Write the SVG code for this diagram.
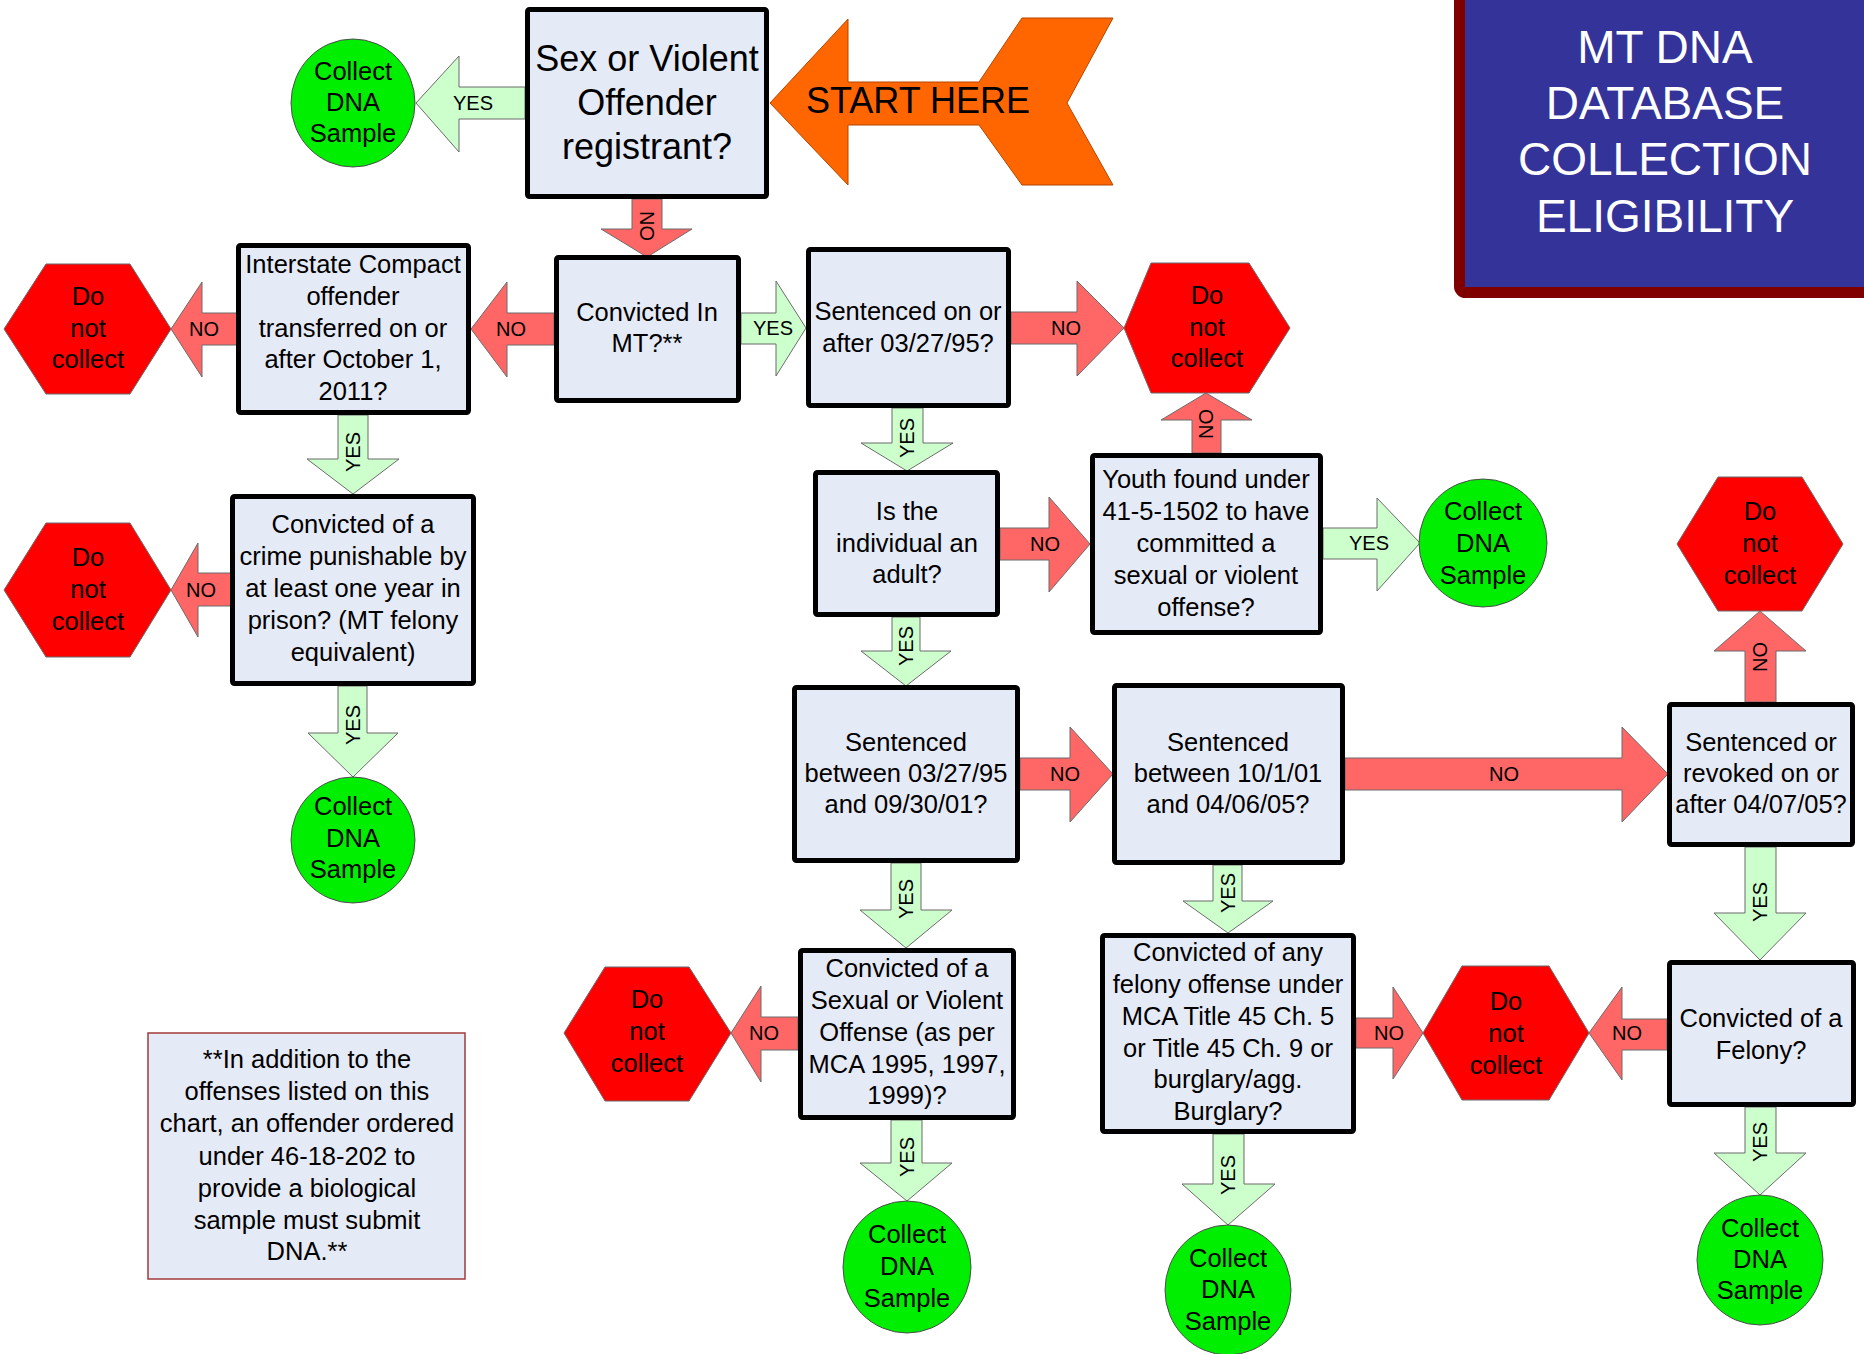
<svg xmlns="http://www.w3.org/2000/svg" width="1864" height="1354" viewBox="0 0 1864 1354">
<style>
text{font-family:"Liberation Sans",Arial,sans-serif;text-anchor:middle;fill:#000}
.t{font-size:25.5px}
.big{font-size:36px}
.lab{font-size:20px}
.title{font-size:46px;fill:#fff}
.box{fill:#E4EAF6;stroke:#000;stroke-width:5}
.hex{fill:#FF0000;stroke:#6b6b6b;stroke-width:1}
.circ{fill:#00EE00;stroke:#4d4d4d;stroke-width:1}
.no{fill:#FF6666;stroke:#6b6b6b;stroke-width:1}
.yes{fill:#CCFFCC;stroke:#6b6b6b;stroke-width:1}
</style>
<rect width="1864" height="1354" fill="#fff"/>

<g id="title">
<rect x="1459.5" y="-30" width="430" height="322.5" rx="6" fill="#333399" stroke="#800000" stroke-width="11"/>
<text class="title" x="1665" y="63">MT DNA</text>
<text class="title" x="1665" y="119">DATABASE</text>
<text class="title" x="1665" y="175">COLLECTION</text>
<text class="title" x="1665" y="232">ELIGIBILITY</text>
</g>

<g id="start">
<polygon points="770,103 848,19 848,82 979,82 1022,18 1113,18 1067,103 1113,185 1022,185 979,125 848,125 848,185" fill="#FF6600" stroke="#b34700" stroke-width="1"/>
<text x="918" y="113" style="font-size:36px">START HERE</text>
</g>

<g id="connectors">
<polygon class="yes" points="416,103 459,56 459,87 525,87 525,119 459,119 459,152"/>
<text class="lab" x="473" y="110">YES</text>
<polygon class="no" points="632,199 662,199 662,229 692,229 647,257 601,229 632,229"/>
<text class="lab" transform="translate(647,226) rotate(90)" x="0" y="7">NO</text>
<polygon class="no" points="471,329 507,282 507,313 554,313 554,345 507,345 507,377"/>
<text class="lab" x="511" y="336">NO</text>
<polygon class="no" points="171,329 202,282 202,313 237,313 237,345 202,345 202,377"/>
<text class="lab" x="204" y="336">NO</text>
<polygon class="yes" points="338,415 368,415 368,459 399,459 353,494 307,459 338,459"/>
<text class="lab" transform="translate(353,452) rotate(-90)" x="0" y="7">YES</text>
<polygon class="no" points="171,590 198,543 198,573 231,573 231,606 198,606 198,637"/>
<text class="lab" x="201" y="597">NO</text>
<polygon class="yes" points="338,686 367,686 367,733 398,733 353,777 308,733 338,733"/>
<text class="lab" transform="translate(353,725) rotate(-90)" x="0" y="7">YES</text>
<polygon class="yes" points="741,313 776,313 776,281 806,328 776,376 776,344 741,344"/>
<text class="lab" x="773" y="335">YES</text>
<polygon class="no" points="1011,312 1077,312 1077,281 1124,328 1077,376 1077,344 1011,344"/>
<text class="lab" x="1066" y="335">NO</text>
<polygon class="no" points="1192,453 1192,420 1161,420 1206,393 1252,420 1221,420 1221,453"/>
<text class="lab" transform="translate(1206,424) rotate(-90)" x="0" y="7">NO</text>
<polygon class="yes" points="892,408 923,408 923,443 953,443 907,471 861,443 892,443"/>
<text class="lab" transform="translate(907,438) rotate(-90)" x="0" y="7">YES</text>
<polygon class="no" points="1000,528 1049,528 1049,497 1090,544 1049,592 1049,560 1000,560"/>
<text class="lab" x="1045" y="551">NO</text>
<polygon class="yes" points="1323,528 1377,528 1377,498 1420,543 1377,591 1377,559 1323,559"/>
<text class="lab" x="1369" y="550">YES</text>
<polygon class="yes" points="892,617 920,617 920,651 951,651 906,686 861,651 892,651"/>
<text class="lab" transform="translate(906,646) rotate(-90)" x="0" y="7">YES</text>
<polygon class="no" points="1020,758 1070,758 1070,727 1113,774 1070,822 1070,790 1020,790"/>
<text class="lab" x="1065" y="781">NO</text>
<polygon class="no" points="1345,758 1622,758 1622,727 1668,774 1622,822 1622,790 1345,790"/>
<text class="lab" x="1504" y="781">NO</text>
<polygon class="no" points="1745,702 1745,651 1714,651 1760,611 1806,651 1776,651 1776,702"/>
<text class="lab" transform="translate(1760,657) rotate(-90)" x="0" y="7">NO</text>
<polygon class="yes" points="1745,847 1776,847 1776,913 1806,913 1760,960 1714,913 1745,913"/>
<text class="lab" transform="translate(1760,902) rotate(-90)" x="0" y="7">YES</text>
<polygon class="yes" points="1745,1107 1776,1107 1776,1153 1806,1153 1760,1195 1714,1153 1745,1153"/>
<text class="lab" transform="translate(1760,1142) rotate(-90)" x="0" y="7">YES</text>
<polygon class="no" points="1589,1033 1622,987 1622,1019 1667,1019 1667,1050 1622,1050 1622,1080"/>
<text class="lab" x="1627" y="1040">NO</text>
<polygon class="no" points="1356,1018 1393,1018 1393,987 1423,1033 1393,1079 1393,1048 1356,1048"/>
<text class="lab" x="1389" y="1040">NO</text>
<polygon class="yes" points="1213,865 1242,865 1242,901 1273,901 1228,933 1183,901 1213,901"/>
<text class="lab" transform="translate(1228,893) rotate(-90)" x="0" y="7">YES</text>
<polygon class="yes" points="1213,1134 1244,1134 1244,1184 1275,1184 1228,1225 1182,1184 1213,1184"/>
<text class="lab" transform="translate(1228,1175) rotate(-90)" x="0" y="7">YES</text>
<polygon class="yes" points="891,863 921,863 921,910 952,910 906,948 860,910 891,910"/>
<text class="lab" transform="translate(906,899) rotate(-90)" x="0" y="7">YES</text>
<polygon class="yes" points="891,1120 922,1120 922,1163 952,1163 907,1201 860,1163 891,1163"/>
<text class="lab" transform="translate(907,1157) rotate(-90)" x="0" y="7">YES</text>
<polygon class="no" points="731,1033 761,986 761,1017 798,1017 798,1050 761,1050 761,1082"/>
<text class="lab" x="764" y="1040">NO</text>
</g>

<g id="sex-violent">
<rect class="box" x="527.5" y="9.5" width="239" height="187" rx="2"/>
<text class="big" x="647" y="71">Sex or Violent</text>
<text class="big" x="647" y="115">Offender</text>
<text class="big" x="647" y="159">registrant?</text>
</g>

<g id="collect-1">
<ellipse class="circ" cx="353" cy="103" rx="62" ry="64"/>
<text class="t" x="353" y="80">Collect</text>
<text class="t" x="353" y="111">DNA</text>
<text class="t" x="353" y="142">Sample</text>
</g>

<g id="convicted-mt">
<rect class="box" x="556.5" y="257.5" width="182" height="143" rx="2"/>
<text class="t" x="647" y="321">Convicted In</text>
<text class="t" x="647" y="352">MT?**</text>
</g>

<g id="interstate">
<rect class="box" x="238.5" y="245.5" width="230" height="167" rx="2"/>
<text class="t" x="353" y="273">Interstate Compact</text>
<text class="t" x="353" y="305">offender</text>
<text class="t" x="353" y="337">transferred on or</text>
<text class="t" x="353" y="368">after October 1,</text>
<text class="t" x="353" y="400">2011?</text>
</g>

<g id="nocollect-1">
<polygon class="hex" points="4,329 46,264 130,264 171,329 130,394 46,394"/>
<text class="t" x="88" y="305">Do</text>
<text class="t" x="88" y="337">not</text>
<text class="t" x="88" y="368">collect</text>
</g>

<g id="crime-year">
<rect class="box" x="232.5" y="496.5" width="241" height="187" rx="2"/>
<text class="t" x="353" y="533">Convicted of a</text>
<text class="t" x="353" y="565">crime punishable by</text>
<text class="t" x="353" y="597">at least one year in</text>
<text class="t" x="353" y="629">prison? (MT felony</text>
<text class="t" x="353" y="661">equivalent)</text>
</g>

<g id="nocollect-2">
<polygon class="hex" points="4,590 46,523 130,523 171,590 130,657 46,657"/>
<text class="t" x="88" y="566">Do</text>
<text class="t" x="88" y="598">not</text>
<text class="t" x="88" y="630">collect</text>
</g>

<g id="collect-2">
<ellipse class="circ" cx="353" cy="840" rx="62" ry="63"/>
<text class="t" x="353" y="815">Collect</text>
<text class="t" x="353" y="847">DNA</text>
<text class="t" x="353" y="878">Sample</text>
</g>

<g id="sentenced-after-95">
<rect class="box" x="808.5" y="249.5" width="200" height="156" rx="2"/>
<text class="t" x="908" y="320">Sentenced on or</text>
<text class="t" x="908" y="352">after 03/27/95?</text>
</g>

<g id="nocollect-3">
<polygon class="hex" points="1124,328 1151,263 1249,263 1290,328 1249,393 1151,393"/>
<text class="t" x="1207" y="304">Do</text>
<text class="t" x="1207" y="336">not</text>
<text class="t" x="1207" y="367">collect</text>
</g>

<g id="adult">
<rect class="box" x="815.5" y="472.5" width="182" height="142" rx="2"/>
<text class="t" x="907" y="520">Is the</text>
<text class="t" x="907" y="552">individual an</text>
<text class="t" x="907" y="583">adult?</text>
</g>

<g id="youth">
<rect class="box" x="1092.5" y="455.5" width="228" height="177" rx="2"/>
<text class="t" x="1206" y="488">Youth found under</text>
<text class="t" x="1206" y="520">41-5-1502 to have</text>
<text class="t" x="1206" y="552">committed a</text>
<text class="t" x="1206" y="584">sexual or violent</text>
<text class="t" x="1206" y="616">offense?</text>
</g>

<g id="collect-3">
<ellipse class="circ" cx="1483" cy="543" rx="64" ry="64"/>
<text class="t" x="1483" y="520">Collect</text>
<text class="t" x="1483" y="552">DNA</text>
<text class="t" x="1483" y="584">Sample</text>
</g>

<g id="between-95-01">
<rect class="box" x="794.5" y="687.5" width="223" height="173" rx="2"/>
<text class="t" x="906" y="751">Sentenced</text>
<text class="t" x="906" y="782">between 03/27/95</text>
<text class="t" x="906" y="813">and 09/30/01?</text>
</g>

<g id="between-01-05">
<rect class="box" x="1114.5" y="685.5" width="228" height="177" rx="2"/>
<text class="t" x="1228" y="751">Sentenced</text>
<text class="t" x="1228" y="782">between 10/1/01</text>
<text class="t" x="1228" y="813">and 04/06/05?</text>
</g>

<g id="revoked-after-05">
<rect class="box" x="1669.5" y="704.5" width="183" height="140" rx="2"/>
<text class="t" x="1761" y="751">Sentenced or</text>
<text class="t" x="1761" y="782">revoked on or</text>
<text class="t" x="1761" y="813">after 04/07/05?</text>
</g>

<g id="nocollect-4">
<polygon class="hex" points="1677,544 1718,477 1802,477 1843,544 1802,611 1718,611"/>
<text class="t" x="1760" y="520">Do</text>
<text class="t" x="1760" y="552">not</text>
<text class="t" x="1760" y="584">collect</text>
</g>

<g id="felony">
<rect class="box" x="1669.5" y="962.5" width="184" height="142" rx="2"/>
<text class="t" x="1761" y="1027">Convicted of a</text>
<text class="t" x="1761" y="1059">Felony?</text>
</g>

<g id="collect-6">
<ellipse class="circ" cx="1760" cy="1260" rx="63" ry="65"/>
<text class="t" x="1760" y="1237">Collect</text>
<text class="t" x="1760" y="1268">DNA</text>
<text class="t" x="1760" y="1299">Sample</text>
</g>

<g id="nocollect-5">
<polygon class="hex" points="1423,1033 1462,966 1549,966 1589,1033 1549,1100 1462,1100"/>
<text class="t" x="1506" y="1010">Do</text>
<text class="t" x="1506" y="1042">not</text>
<text class="t" x="1506" y="1074">collect</text>
</g>

<g id="any-felony">
<rect class="box" x="1102.5" y="935.5" width="251" height="196" rx="2"/>
<text class="t" x="1228" y="961">Convicted of any</text>
<text class="t" x="1228" y="993">felony offense under</text>
<text class="t" x="1228" y="1025">MCA Title 45 Ch. 5</text>
<text class="t" x="1228" y="1057">or Title 45 Ch. 9 or</text>
<text class="t" x="1228" y="1088">burglary/agg.</text>
<text class="t" x="1228" y="1120">Burglary?</text>
</g>

<g id="collect-5">
<ellipse class="circ" cx="1228" cy="1290" rx="63" ry="65"/>
<text class="t" x="1228" y="1267">Collect</text>
<text class="t" x="1228" y="1298">DNA</text>
<text class="t" x="1228" y="1330">Sample</text>
</g>

<g id="sexual-violent">
<rect class="box" x="800.5" y="950.5" width="213" height="167" rx="2"/>
<text class="t" x="907" y="977">Convicted of a</text>
<text class="t" x="907" y="1009">Sexual or Violent</text>
<text class="t" x="907" y="1041">Offense (as per</text>
<text class="t" x="907" y="1073">MCA 1995, 1997,</text>
<text class="t" x="907" y="1104">1999)?</text>
</g>

<g id="nocollect-6">
<polygon class="hex" points="564,1033 605,967 689,967 731,1033 689,1101 605,1101"/>
<text class="t" x="647" y="1008">Do</text>
<text class="t" x="647" y="1040">not</text>
<text class="t" x="647" y="1072">collect</text>
</g>

<g id="collect-4">
<ellipse class="circ" cx="907" cy="1267" rx="64" ry="66"/>
<text class="t" x="907" y="1243">Collect</text>
<text class="t" x="907" y="1275">DNA</text>
<text class="t" x="907" y="1307">Sample</text>
</g>

<g id="footnote">
<rect x="148" y="1033" width="317" height="246" fill="#E4EAF6" stroke="#A33A3A" stroke-width="1.5"/>
<text class="t" x="307" y="1068">**In addition to the</text>
<text class="t" x="307" y="1100">offenses listed on this</text>
<text class="t" x="307" y="1132">chart, an offender ordered</text>
<text class="t" x="307" y="1165">under 46-18-202 to</text>
<text class="t" x="307" y="1197">provide a biological</text>
<text class="t" x="307" y="1229">sample must submit</text>
<text class="t" x="307" y="1260">DNA.**</text>
</g>
</svg>
